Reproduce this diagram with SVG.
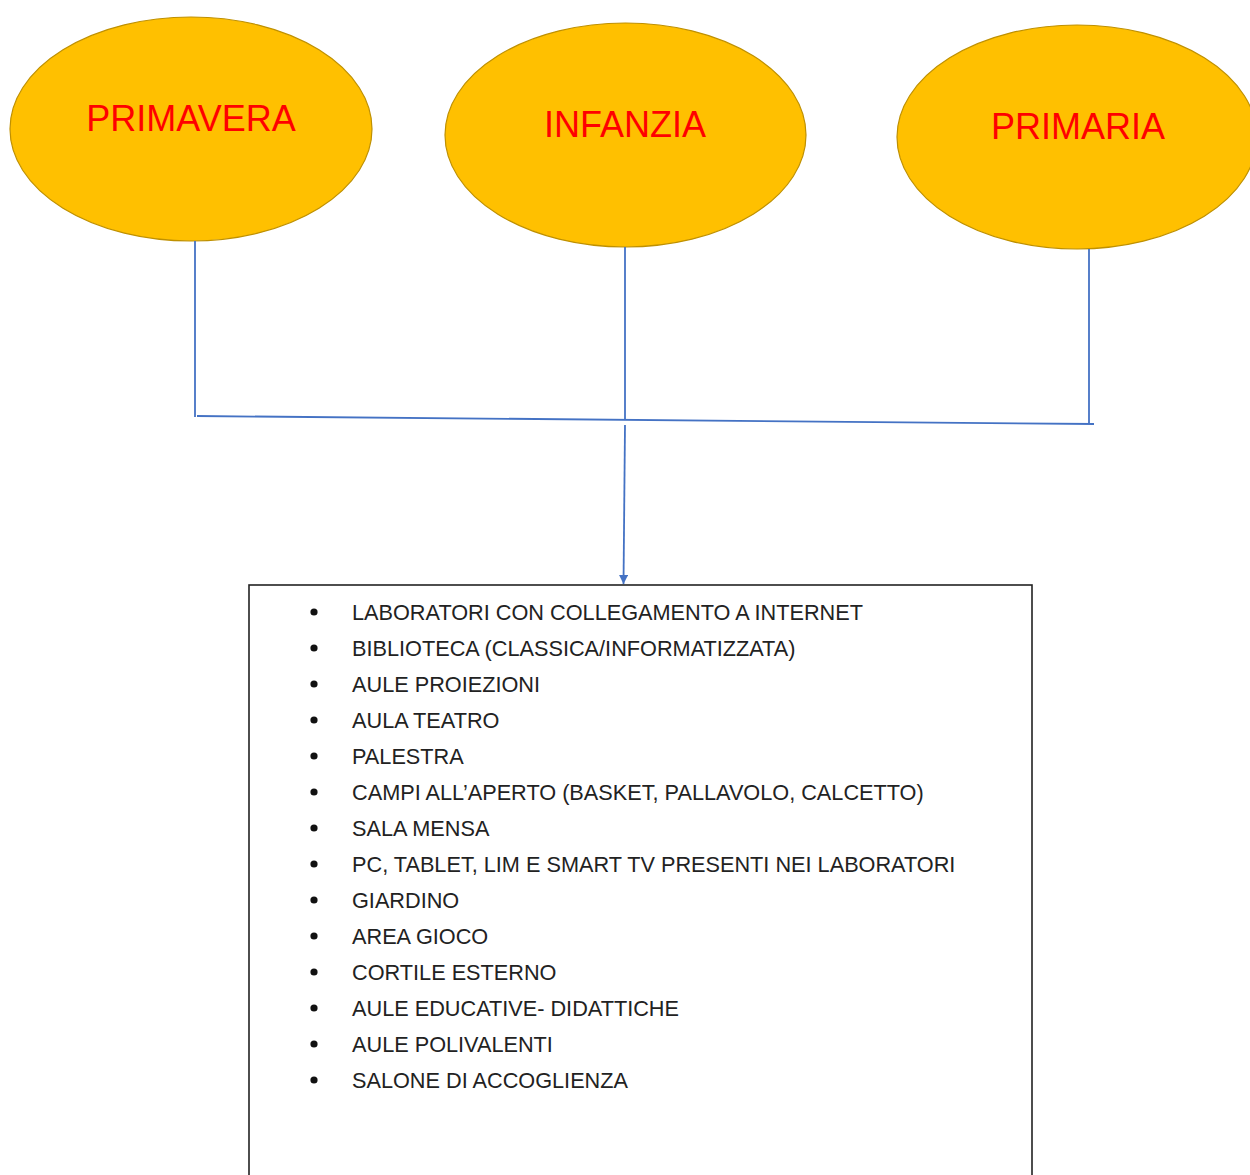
<svg xmlns="http://www.w3.org/2000/svg" width="1250" height="1175" viewBox="0 0 1250 1175">
<style>
.node ellipse{fill:#FFC000;stroke:#BF9000;stroke-width:1.2}
.lbl{font-family:"Liberation Sans",Arial,sans-serif;font-size:36px;fill:#FF0000;text-anchor:middle}
.conn{stroke:#4472C4;stroke-width:1.8;fill:none}
.item{font-family:"Liberation Sans",Arial,sans-serif;font-size:21.7px;fill:#222}
</style>
<defs>
<marker id="arr" viewBox="0 0 10 10" refX="10" refY="5" markerWidth="6" markerHeight="5" orient="auto-start-reverse" markerUnits="strokeWidth">
<path d="M0,0 L10,5 L0,10 z" fill="#4472C4"/>
</marker>
</defs>
<rect width="1250" height="1175" fill="#fff"/>
<g id="primavera" class="node">
<ellipse cx="191" cy="129" rx="181" ry="112"/>
<text class="lbl" x="191" y="131">PRIMAVERA</text>
</g>
<g id="infanzia" class="node">
<ellipse cx="625.5" cy="135" rx="180.5" ry="112"/>
<text class="lbl" x="625" y="137">INFANZIA</text>
</g>
<g id="primaria" class="node">
<ellipse cx="1077" cy="137" rx="180" ry="112"/>
<text class="lbl" x="1078" y="139">PRIMARIA</text>
</g>
<g id="connectors">
<line class="conn" x1="195" y1="241" x2="195" y2="417"/>
<line class="conn" x1="625" y1="247" x2="625" y2="420"/>
<line class="conn" x1="1089" y1="249" x2="1089" y2="424"/>
<line class="conn" x1="197" y1="416" x2="1094" y2="424"/>
<line class="conn" x1="625" y1="425" x2="623.5" y2="584" marker-end="url(#arr)"/>
</g>
<g id="facilities">
<rect x="249" y="585" width="783" height="600" fill="#fff" stroke="#222" stroke-width="1.6"/>
<g fill="#111">
<circle cx="314" cy="612" r="3.6"/>
<circle cx="314" cy="648" r="3.6"/>
<circle cx="314" cy="684" r="3.6"/>
<circle cx="314" cy="720" r="3.6"/>
<circle cx="314" cy="756" r="3.6"/>
<circle cx="314" cy="792" r="3.6"/>
<circle cx="314" cy="828" r="3.6"/>
<circle cx="314" cy="864" r="3.6"/>
<circle cx="314" cy="900" r="3.6"/>
<circle cx="314" cy="936" r="3.6"/>
<circle cx="314" cy="972" r="3.6"/>
<circle cx="314" cy="1008" r="3.6"/>
<circle cx="314" cy="1044" r="3.6"/>
<circle cx="314" cy="1080" r="3.6"/>
</g>
<text class="item" x="352" y="619.5">LABORATORI CON COLLEGAMENTO A INTERNET</text>
<text class="item" x="352" y="655.5">BIBLIOTECA (CLASSICA/INFORMATIZZATA)</text>
<text class="item" x="352" y="691.5">AULE PROIEZIONI</text>
<text class="item" x="352" y="727.5">AULA TEATRO</text>
<text class="item" x="352" y="763.5">PALESTRA</text>
<text class="item" x="352" y="799.5">CAMPI ALL’APERTO (BASKET, PALLAVOLO, CALCETTO)</text>
<text class="item" x="352" y="835.5">SALA MENSA</text>
<text class="item" x="352" y="871.5">PC, TABLET, LIM E SMART TV PRESENTI NEI LABORATORI</text>
<text class="item" x="352" y="907.5">GIARDINO</text>
<text class="item" x="352" y="943.5">AREA GIOCO</text>
<text class="item" x="352" y="979.5">CORTILE ESTERNO</text>
<text class="item" x="352" y="1015.5">AULE EDUCATIVE- DIDATTICHE</text>
<text class="item" x="352" y="1051.5">AULE POLIVALENTI</text>
<text class="item" x="352" y="1087.5">SALONE DI ACCOGLIENZA</text>
</g>
</svg>
